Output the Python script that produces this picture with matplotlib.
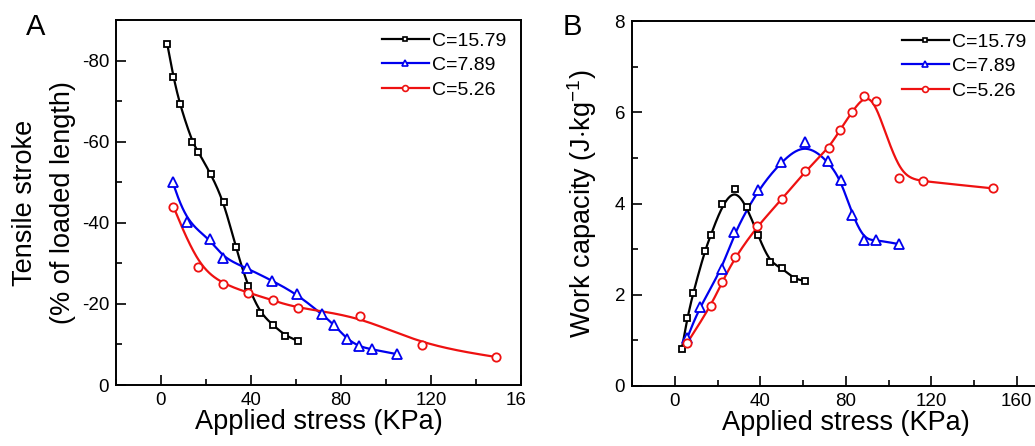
import numpy as np
import matplotlib
matplotlib.use("Agg")
import matplotlib.pyplot as plt
from matplotlib.lines import Line2D
from matplotlib.transforms import Bbox, TransformedBbox
from matplotlib.ticker import MultipleLocator

plt.rcParams['font.family'] = ['Liberation Sans', 'DejaVu Sans']
plt.rcParams['mathtext.fontset'] = 'custom'
plt.rcParams['mathtext.rm'] = 'Liberation Sans'
plt.rcParams['mathtext.it'] = 'Liberation Sans:italic'
plt.rcParams['mathtext.bf'] = 'Liberation Sans:bold'

# ---------------- data ----------------
series_labels = ["C=15.79", "C=7.89", "C=5.26"]
series_colors = ["black", "#0000ee", "#ee1111"]
series_markers = ["s", "^", "o"]

# Panel A: tensile stroke (% of loaded length) vs applied stress (KPa)
a_x_c1579 = [2.8, 5.5, 8.3, 13.8, 16.6, 22.2, 27.9, 33.2, 38.5, 44.1, 49.6, 55.1, 60.8]
a_y_c1579 = [-84.0, -76.0, -69.3, -60.0, -57.4, -52.0, -45.2, -34.0, -24.5, -17.7, -14.9, -12.2, -10.9]
a_x_c789 = [5.2, 11.4, 21.8, 27.6, 38.2, 49.5, 60.4, 71.4, 77.0, 82.5, 88.0, 93.6, 104.9]
a_y_c789 = [-50.0, -40.1, -36.0, -31.3, -28.8, -25.7, -22.4, -17.5, -14.8, -11.4, -9.5, -8.8, -7.6]
a_x_c526 = [5.5, 16.6, 27.6, 38.5, 49.6, 60.8, 88.3, 115.9, 148.9]
a_y_c526 = [-44.0, -29.2, -24.9, -22.8, -20.9, -18.9, -17.0, -9.9, -6.9]

# Panel B: work capacity (J/kg) vs applied stress (KPa)
b_x_c1579 = [3.3, 5.9, 8.6, 14.0, 16.8, 22.3, 28.2, 33.8, 39.0, 44.4, 50.1, 55.7, 61.0]
b_y_c1579 = [0.82, 1.49, 2.04, 2.95, 3.30, 3.98, 4.32, 3.92, 3.30, 2.71, 2.59, 2.35, 2.30]
b_x_c789 = [5.9, 11.6, 22.1, 27.9, 38.8, 49.6, 60.8, 71.8, 77.7, 83.1, 88.7, 94.2, 104.9]
b_y_c789 = [1.06, 1.73, 2.56, 3.37, 4.29, 4.91, 5.34, 4.93, 4.51, 3.75, 3.20, 3.20, 3.11]
b_x_c526 = [5.9, 16.8, 22.3, 28.2, 38.7, 50.1, 61.1, 72.0, 77.4, 83.0, 88.6, 94.2, 105.1, 116.0, 149.1]
b_y_c526 = [0.95, 1.75, 2.29, 2.82, 3.51, 4.09, 4.71, 5.21, 5.62, 6.01, 6.36, 6.25, 4.56, 4.49, 4.33]

x_ticks = [0, 40, 80, 120, 160]
a_y_ticks = [0, -20, -40, -60, -80]
b_y_ticks = [0, 2, 4, 6, 8]


def bspline(x, y, n=40):
    """Clamped uniform cubic B-spline using the data points as control points."""
    P = np.column_stack([x, y]).astype(float)
    Q = np.vstack([P[0], P[0], P, P[-1], P[-1]])
    M = np.array([[-1, 3, -3, 1], [3, -6, 3, 0], [-3, 0, 3, 0], [1, 4, 1, 0]]) / 6.0
    t = np.linspace(0, 1, n)
    T = np.column_stack([t ** 3, t ** 2, t, np.ones_like(t)])
    out = []
    for i in range(len(Q) - 3):
        seg = T @ M @ Q[i:i + 4]
        out.append(seg if i == 0 else seg[1:])
    out = np.vstack(out)
    return out[:, 0], out[:, 1]


W, H = 1035, 446
fig = plt.figure(figsize=(W / 100, H / 100), dpi=100)

axA = fig.add_axes([116 / W, (H - 385) / H, 405 / W, 365 / H])
axB = fig.add_axes([632 / W, (H - 386) / H, 427.5 / W, 365 / H])

lw = 1.6
mew = 1.3
msizes = [5.0, 6.5, 6.0]

dataA = [(a_x_c1579, a_y_c1579), (a_x_c789, a_y_c789), (a_x_c526, a_y_c526)]
dataB = [(b_x_c1579, b_y_c1579), (b_x_c789, b_y_c789), (b_x_c526, b_y_c526)]

for ax, data in ((axA, dataA), (axB, dataB)):
    for (xs, ys), c, m, ms in zip(data, series_colors, series_markers, msizes):
        sx, sy = bspline(xs, ys)
        ax.plot(sx, sy, color=c, lw=lw, zorder=2)
        ax.plot(xs, ys, linestyle='none', marker=m, ms=ms, mfc='white', mec=c, mew=mew, zorder=3)
    handles = [Line2D([], [], color=c, lw=lw, marker=m, ms=ms * 0.7, mfc='white', mec=c, mew=1.2)
               for c, m, ms in zip(series_colors, series_markers, msizes)]
    ax.legend(handles, series_labels, loc='upper left', frameon=False, fontsize=14,
              handlelength=2.4, handletextpad=0.2, labelspacing=0.36, borderaxespad=0,
              borderpad=0.2, numpoints=1,
              bbox_to_anchor=((378 - 116) / 405, 0.978) if ax is axA else ((898 - 632) / 427.5, 0.978))

# axes A
axA.set_xlim(-20, 160)
axA.set_ylim(0, -90)
axA.set_xticks(x_ticks)
axA.set_xticklabels([str(v) for v in x_ticks])
axA.set_yticks(a_y_ticks)
axA.set_yticklabels([str(v) for v in a_y_ticks])
axA.xaxis.set_minor_locator(MultipleLocator(20))
axA.yaxis.set_minor_locator(MultipleLocator(10))
axA.set_xlabel("Applied stress (KPa)", fontsize=19.5, labelpad=0)
axA.set_ylabel("Tensile stroke\n(% of loaded length)", fontsize=19.5, labelpad=4, linespacing=1.6)

# axes B
axB.set_xlim(-20, 180)
axB.set_ylim(0, 8)
axB.set_xticks(x_ticks)
axB.set_xticklabels([str(v) for v in x_ticks])
axB.set_yticks(b_y_ticks)
axB.set_yticklabels([str(v) for v in b_y_ticks])
axB.xaxis.set_minor_locator(MultipleLocator(20))
axB.yaxis.set_minor_locator(MultipleLocator(1))
axB.set_xlabel("Applied stress (KPa)", fontsize=19.5, labelpad=0)
axB.set_ylabel(r"Work capacity (J$\cdot$kg$^{-1}$)", fontsize=19.5, labelpad=11)

for ax in (axA, axB):
    ax.tick_params(which='both', direction='in', labelsize=13.5, width=1.2, pad=5)
    ax.tick_params(which='major', length=7)
    ax.tick_params(which='minor', length=4)
    ax.tick_params(top=False, right=False, which='both')
    for sp in ax.spines.values():
        sp.set_linewidth(1.4)

fig.text(26 / W, 1 - 27 / H, "A", fontsize=21, ha='left', va='center')
fig.text(563 / W, 1 - 27 / H, "B", fontsize=21, ha='left', va='center')

# clip the last x tick label in panel A like the reference ("16")
fig.canvas.draw()
last = axA.get_xticklabels()[-1]
last.set_clip_box(TransformedBbox(Bbox([[0, 0], [525 / W, 1]]), fig.transFigure))
last.set_clip_on(True)

fig.savefig("out.png", dpi=100)
